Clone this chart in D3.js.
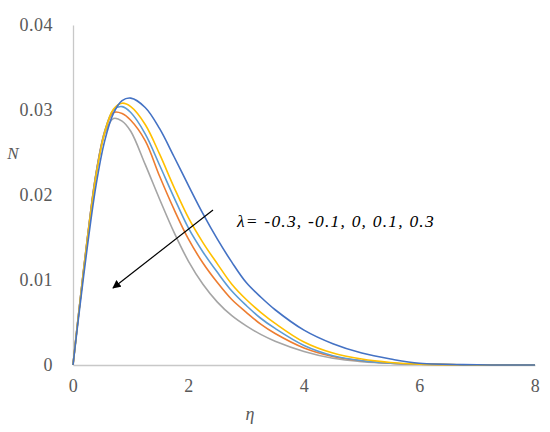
<!DOCTYPE html>
<html lang="en">
<head>
  <meta charset="UTF-8">
  <title>N vs eta</title>
  <script src="https://d3js.org/d3.v7.min.js"></script>
  <style>
    body, html { margin: 0; padding: 0; background: #fff; }
    svg { display: block; }
    svg text { font-family: "Liberation Serif", "Times New Roman", "DejaVu Serif", serif; }
    .tick text { font-size: 18px; fill: #595959; letter-spacing: 0.5px; }
  </style>
</head>
<body>
  <svg id="chart" width="550" height="432"></svg>
  <script>
    // eta grid shared by every series
    const eta = [0, 0.1, 0.25, 0.4, 0.55, 0.7, 0.85, 1.0, 1.25, 1.5, 1.75, 2.0, 2.25, 2.5, 2.75, 3.0, 3.25, 3.5, 4.0, 4.5, 5.0, 5.5, 6.0, 7.0, 8.0];

    // N values, one array per lambda
    const nLamM03 = [0, 0.0058, 0.0140, 0.0212, 0.0264, 0.0296, 0.0311, 0.0314, 0.0303, 0.0278, 0.0245, 0.0211, 0.0178, 0.0148, 0.0121, 0.0097, 0.0080, 0.0065, 0.0041, 0.0025, 0.0014, 0.0007, 0.0002, 0.00003, 0];
    const nLamM01 = [0, 0.0061, 0.0148, 0.0223, 0.0274, 0.0301, 0.0308, 0.0304, 0.0283, 0.0248, 0.0209, 0.0173, 0.0144, 0.0119, 0.0095, 0.0077, 0.0062, 0.0049, 0.0027, 0.0014, 0.0007, 0.0003, 0.0001, 0.00002, 0];
    const nLam0   = [0, 0.0062, 0.0149, 0.0225, 0.0275, 0.0300, 0.0304, 0.0297, 0.0272, 0.0235, 0.0197, 0.0161, 0.0133, 0.0109, 0.0087, 0.0070, 0.0055, 0.0043, 0.0023, 0.0011, 0.0005, 0.0002, 0.0001, 0.00001, 0];
    const nLamP01 = [0, 0.0062, 0.0150, 0.0226, 0.0275, 0.0297, 0.0296, 0.0288, 0.0264, 0.0222, 0.0183, 0.0148, 0.0120, 0.0097, 0.0077, 0.0062, 0.0048, 0.0037, 0.0020, 0.0010, 0.0005, 0.0002, 0.0001, 0.00001, 0];
    const nLamP03 = [0, 0.0062, 0.0150, 0.0225, 0.0272, 0.0290, 0.0287, 0.0275, 0.0236, 0.0195, 0.0156, 0.0122, 0.0095, 0.0074, 0.0058, 0.0046, 0.0036, 0.0028, 0.0016, 0.0008, 0.0004, 0.0002, 0.0001, 0.00001, 0];

    const xTicks = [0, 2, 4, 6, 8];
    const yTicks = [0, 0.01, 0.02, 0.03, 0.04];

    const series = [
      { name: "-0.3", values: nLamM03, color: "#4472C4" },
      { name: "-0.1", values: nLamM01, color: "#FFC000" },
      { name: "0",    values: nLam0,   color: "#5B9BD5" },
      { name: "0.1",  values: nLamP01, color: "#ED7D31" },
      { name: "0.3",  values: nLamP03, color: "#A5A5A5" }
    ];

    const svg = d3.select("#chart");

    const x = d3.scaleLinear().domain([0, 8]).range([73, 535]);
    const y = d3.scaleLinear().domain([0, 0.04]).range([365, 25]);

    // axes (Excel look: thin gray lines, no tick marks)
    const xAxis = svg.append("g")
      .attr("transform", `translate(0,${y(0)})`)
      .call(d3.axisBottom(x).tickValues(xTicks).tickSize(0).tickPadding(14).tickFormat(d3.format("d")));
    xAxis.select(".domain").attr("stroke", "#c8c8c8").attr("stroke-width", 1.3);

    const yAxis = svg.append("g")
      .attr("transform", `translate(${x(0)},0)`)
      .call(d3.axisLeft(y).tickValues(yTicks).tickSize(0).tickPadding(20)
        .tickFormat(d => d === 0 ? "0" : d3.format(".2f")(d)));
    yAxis.select(".domain").attr("stroke", "#c8c8c8").attr("stroke-width", 1.3);
    svg.selectAll("g").attr("font-family", null).attr("font-size", null);

    // curves
    const line = d3.line()
      .x((d, i) => x(eta[i]))
      .y(d => y(d))
      .curve(d3.curveCatmullRom.alpha(0.5));

    svg.append("g").selectAll("path")
      .data(series.slice().reverse())
      .join("path")
      .attr("d", d => line(d.values))
      .attr("fill", "none")
      .attr("stroke", d => d.color)
      .attr("stroke-width", 1.6);

    // axis titles
    svg.append("text")
      .attr("x", 250).attr("y", 420)
      .attr("text-anchor", "middle")
      .attr("font-style", "italic")
      .attr("font-size", 18)
      .attr("fill", "#595959")
      .text("η");

    svg.append("text")
      .attr("x", 13).attr("y", 159)
      .attr("text-anchor", "middle")
      .attr("font-style", "italic")
      .attr("font-size", 17)
      .attr("fill", "#595959")
      .text("N");

    // annotation arrow
    svg.append("defs").append("marker")
      .attr("id", "arrow")
      .attr("viewBox", "0 0 10 10")
      .attr("refX", 9).attr("refY", 5)
      .attr("markerWidth", 7).attr("markerHeight", 7)
      .attr("orient", "auto")
      .append("path")
      .attr("d", "M0,0 L10,5 L0,10 z")
      .attr("fill", "#000");

    svg.append("line")
      .attr("x1", 213).attr("y1", 210)
      .attr("x2", 113).attr("y2", 288)
      .attr("stroke", "#000")
      .attr("stroke-width", 1.2)
      .attr("marker-end", "url(#arrow)");

    svg.append("text")
      .attr("x", 237).attr("y", 227)
      .attr("font-style", "italic")
      .attr("font-size", 17.5)
      .attr("letter-spacing", 1.2)
      .attr("fill", "#000")
      .text("λ= " + series.map(s => s.name).join(", "));
  </script>
</body>
</html>
